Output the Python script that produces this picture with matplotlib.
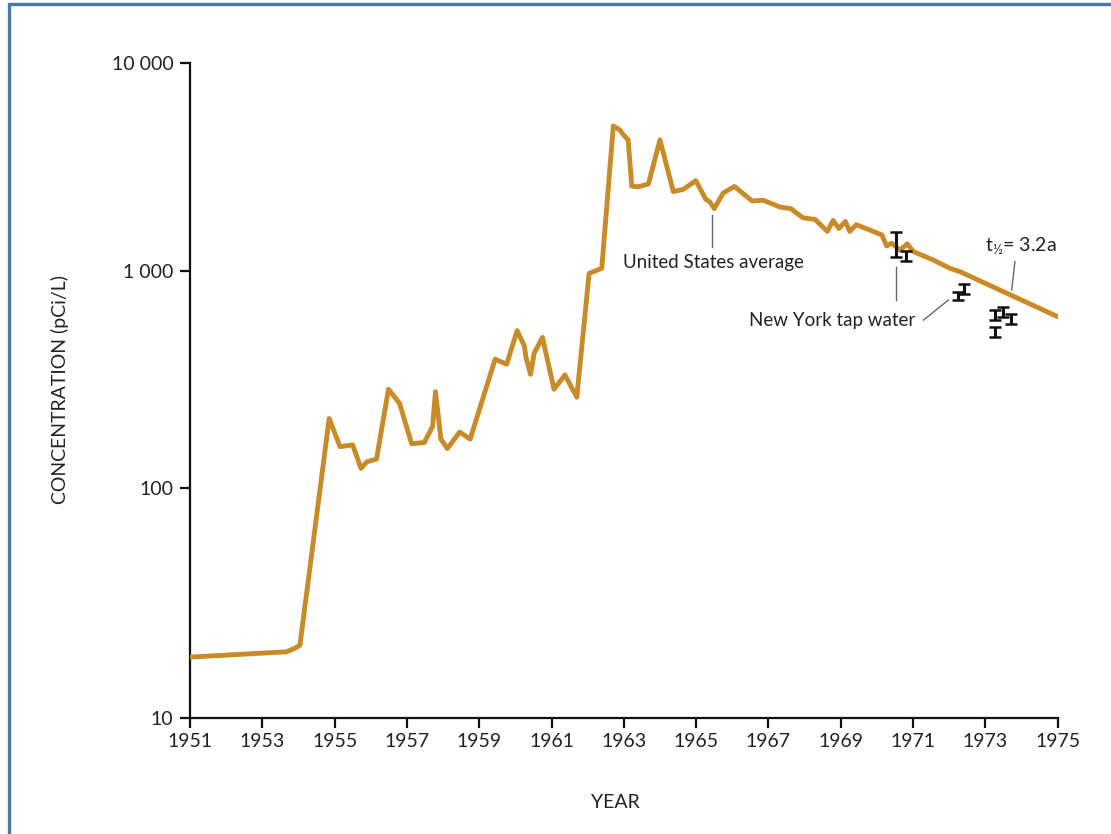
import numpy as np
import matplotlib
matplotlib.use("Agg")
import matplotlib.pyplot as plt
from matplotlib.patches import Rectangle

plt.rcParams['font.family'] = ['Lato', 'DejaVu Sans']
plt.rcParams['mathtext.default'] = 'regular'

# ---- data ----
years = [1951.0, 1953.67, 1953.90, 1954.04, 1954.85, 1955.15, 1955.50, 1955.73, 1955.89,
         1956.16, 1956.49, 1956.80, 1957.13, 1957.48, 1957.71, 1957.79, 1957.94, 1958.12,
         1958.46, 1958.75, 1959.44, 1959.76, 1960.05, 1960.25, 1960.29, 1960.42, 1960.52,
         1960.75, 1961.07, 1961.37, 1961.70, 1962.04, 1962.39, 1962.71, 1962.89, 1962.99,
         1963.12, 1963.22, 1963.40, 1963.68, 1964.00, 1964.37, 1964.65, 1964.99, 1965.27,
         1965.38, 1965.50, 1965.75, 1966.06, 1966.55, 1966.85, 1967.32, 1967.62, 1967.96,
         1968.29, 1968.63, 1968.79, 1968.95, 1969.13, 1969.25, 1969.43, 1969.76, 1970.14,
         1970.27, 1970.41, 1970.64, 1970.84, 1971.01, 1971.56, 1972.02, 1972.30, 1975.0]
us_average = [18.4, 19.4, 20.1, 20.7, 209, 155, 158, 123, 132,
              136, 285, 245, 160, 162, 192, 278, 168, 152,
              181, 168, 392, 372, 531, 451, 403, 334, 418,
              494, 285, 332, 262, 975, 1030, 4980, 4770, 4510,
              4270, 2560, 2540, 2620, 4270, 2410, 2470, 2720, 2210,
              2150, 1995, 2370, 2550, 2170, 2190, 2030, 1995, 1800,
              1770, 1550, 1750, 1600, 1730, 1550, 1670, 1585, 1490,
              1320, 1360, 1260, 1350, 1240, 1130, 1030, 993, 616]

ny_years = [1970.53, 1970.82, 1972.24, 1972.41, 1973.27, 1973.50, 1973.70, 1973.27]
ny_low = [1172, 1120, 735, 783, 594, 612, 570, 498]
ny_high = [1545, 1248, 803, 871, 661, 681, 634, 553]

x_ticks = list(range(1951, 1976, 2))
y_ticks = [10, 100, 1000, 10000]
y_tick_labels = ["10", "100", "1 000", "10 000"]

LINE = '#C98A28'

# axis as drawn in the reference: decades are not equally spaced
_dec = [1, 2, 3, 4]
_pix = [0, 230, 447, 655]

def fwd(v):
    v = np.asarray(v, dtype=float)
    return np.interp(np.log10(np.clip(v, 1e-12, None)), _dec, _pix,
                     left=-1e3, right=1e4)

def inv(p):
    p = np.asarray(p, dtype=float)
    return 10 ** np.interp(p, _pix, _dec)

W, H = 1111, 834
fig = plt.figure(figsize=(W / 100, H / 100), dpi=100)
fig.patch.set_facecolor('white')

# blue frame (cropped on the right and bottom)
fig.patches.append(Rectangle((9 / W, -0.2), 1.5, 0.2 + (1 - 4 / H), transform=fig.transFigure,
                             fill=False, edgecolor='#4A77A8', linewidth=2.4))

ax = fig.add_axes([190 / W, 1 - 718 / H, (1057.6 - 190) / W, (718 - 63) / H])
ax.set_yscale('function', functions=(fwd, inv))
ax.set_xlim(1951, 1975)
ax.set_ylim(10, 10000)

ax.plot(years, us_average, color=LINE, lw=3.5, solid_joinstyle='round',
        solid_capstyle='round', zorder=3)

yerr_low = np.array(ny_low)
yerr_high = np.array(ny_high)
mid = np.sqrt(yerr_low * yerr_high)
ax.errorbar(ny_years, mid, yerr=[mid - yerr_low, yerr_high - mid], fmt='none',
            ecolor='#111111', elinewidth=2.2, capsize=4, capthick=1.8, zorder=4)

for s in ['top', 'right']:
    ax.spines[s].set_visible(False)
for s in ['left', 'bottom']:
    ax.spines[s].set_linewidth(1.6)
    ax.spines[s].set_color('#111111')

ax.set_xticks(x_ticks)
ax.set_xticklabels([str(t) for t in x_ticks])
ax.set_yticks(y_ticks)
ax.set_yticklabels(y_tick_labels)
ax.minorticks_off()
ax.yaxis.set_minor_locator(matplotlib.ticker.NullLocator())
ax.tick_params(axis='both', which='major', direction='out', length=7, width=1.6,
               color='#111111', labelsize=14, labelcolor='#222222')
ax.tick_params(axis='y', pad=5)
ax.tick_params(axis='x', pad=4)

fig.text(615 / W, 1 - 803 / H, "YEAR", ha='center', va='center', fontsize=14, color='#222222')
fig.text(60 / W, 1 - 390 / H, "CONCENTRATION (pCi/L)", ha='center', va='center',
         rotation=90, fontsize=14, color='#222222')

LEAD = '#666666'
# United States average
ax.plot([1965.45, 1965.45], [1310, 1858], color=LEAD, lw=1.0, zorder=2)
ax.text(1965.47, 1096, "United States average", ha='center', va='center', fontsize=13.5,
        color='#222222')
# New York tap water
ax.plot([1970.53, 1970.53], [735, 1049], color=LEAD, lw=1.0, zorder=2)
ax.plot([1971.29, 1971.98], [594, 735], color=LEAD, lw=1.0, zorder=2)
ax.text(1971.06, 589, "New York tap water", ha='right', va='center', fontsize=13.5,
        color='#222222')
# half-life
ax.plot([1973.82, 1973.73], [1109, 817], color=LEAD, lw=1.0, zorder=2)
ax.text(1972.99, 1318, r"t$_{½}$= 3.2a", ha='left', va='center', fontsize=14,
        color='#222222')

fig.savefig("out.png", dpi=100)
